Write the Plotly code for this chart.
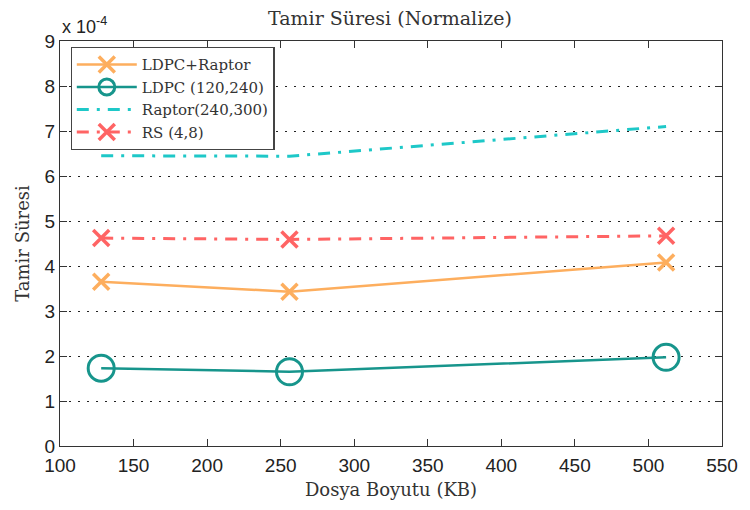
import plotly.graph_objects as go

# File sizes (KB) and normalised repair times (units of 1e-4)
dosya_boyutu = [128, 256, 512]
ldpc_raptor = [3.65, 3.43, 4.08]
ldpc_120_240 = [1.73, 1.65, 1.97]
raptor_240_300 = [6.45, 6.44, 7.10]
rs_4_8 = [4.62, 4.59, 4.67]

x_ticks = [100, 150, 200, 250, 300, 350, 400, 450, 500, 550]
y_ticks = [0, 1, 2, 3, 4, 5, 6, 7, 8, 9]

serif = "DejaVu Serif, Liberation Serif, serif"
sans = "Liberation Sans Narrow, Arial Narrow, Liberation Sans, sans-serif"

fig = go.Figure()

fig.add_trace(go.Scatter(
    x=dosya_boyutu, y=ldpc_raptor, name="LDPC+Raptor", mode="lines+markers",
    line=dict(color="#FDAE5E", width=2.5),
    marker=dict(symbol="x-thin-open", size=16, line=dict(color="#FDAE5E", width=3.5)),
))
fig.add_trace(go.Scatter(
    x=dosya_boyutu, y=ldpc_120_240, name="LDPC (120,240)", mode="lines+markers",
    line=dict(color="#17958C", width=2.5),
    marker=dict(symbol="circle-open", size=26, line=dict(color="#17958C", width=3)),
))
fig.add_trace(go.Scatter(
    x=dosya_boyutu, y=raptor_240_300, name="Raptor(240,300)", mode="lines",
    line=dict(color="#1EC8C8", width=3, dash="12px,8px,3px,8px"),
))
fig.add_trace(go.Scatter(
    x=dosya_boyutu, y=rs_4_8, name="RS (4,8)", mode="lines+markers",
    line=dict(color="#FF6464", width=3, dash="12px,8px,3px,8px"),
    marker=dict(symbol="x-thin-open", size=16, line=dict(color="#FF6464", width=3.5)),
))

fig.update_layout(
    width=750, height=510,
    margin=dict(l=59.5, r=22, t=41, b=64),
    paper_bgcolor="white", plot_bgcolor="white",
    title=dict(text="Tamir Süresi (Normalize)", x=0.52, xanchor="center",
               y=0.965, yanchor="middle",
               font=dict(family=serif, size=19, color="#333333")),
    legend=dict(x=0.016, y=0.985, xanchor="left", yanchor="top",
                bgcolor="white", bordercolor="#444444", borderwidth=1.2,
                font=dict(family=serif, size=15, color="#333333"),
                tracegroupgap=0, itemwidth=60, entrywidth=200,
                entrywidthmode="pixels"),
    showlegend=True,
)

fig.update_xaxes(
    range=[100, 550], tickvals=x_ticks, ticktext=[str(v) for v in x_ticks],
    ticks="inside", ticklen=7, tickcolor="#333333", tickwidth=1,
    showline=True, linecolor="#333333", linewidth=1.2, mirror="allticks",
    showgrid=False, zeroline=False, ticklabelstandoff=2,
    tickfont=dict(family=sans, size=19, color="#222222"),
    title=dict(text="Dosya Boyutu (KB)", standoff=8,
               font=dict(family=serif, size=18, color="#333333")),
)
fig.update_yaxes(
    range=[0, 9], tickvals=y_ticks, ticktext=[str(v) for v in y_ticks],
    ticks="inside", ticklen=7, tickcolor="#333333", tickwidth=1,
    showline=True, linecolor="#333333", linewidth=1.2, mirror="allticks",
    showgrid=True, gridcolor="#222222", gridwidth=1, griddash="2px,7px",
    zeroline=False,
    tickfont=dict(family=sans, size=19, color="#222222"),
    title=dict(text="Tamir Süresi", standoff=10,
               font=dict(family=serif, size=18, color="#333333")),
)

fig.add_annotation(
    text="x 10<sup>-4</sup>", xref="paper", yref="paper",
    x=0.0, y=1.0, xanchor="left", yanchor="bottom", yshift=2,
    showarrow=False, font=dict(family=sans, size=18, color="#222222"),
)

fig.write_html("out.html")
